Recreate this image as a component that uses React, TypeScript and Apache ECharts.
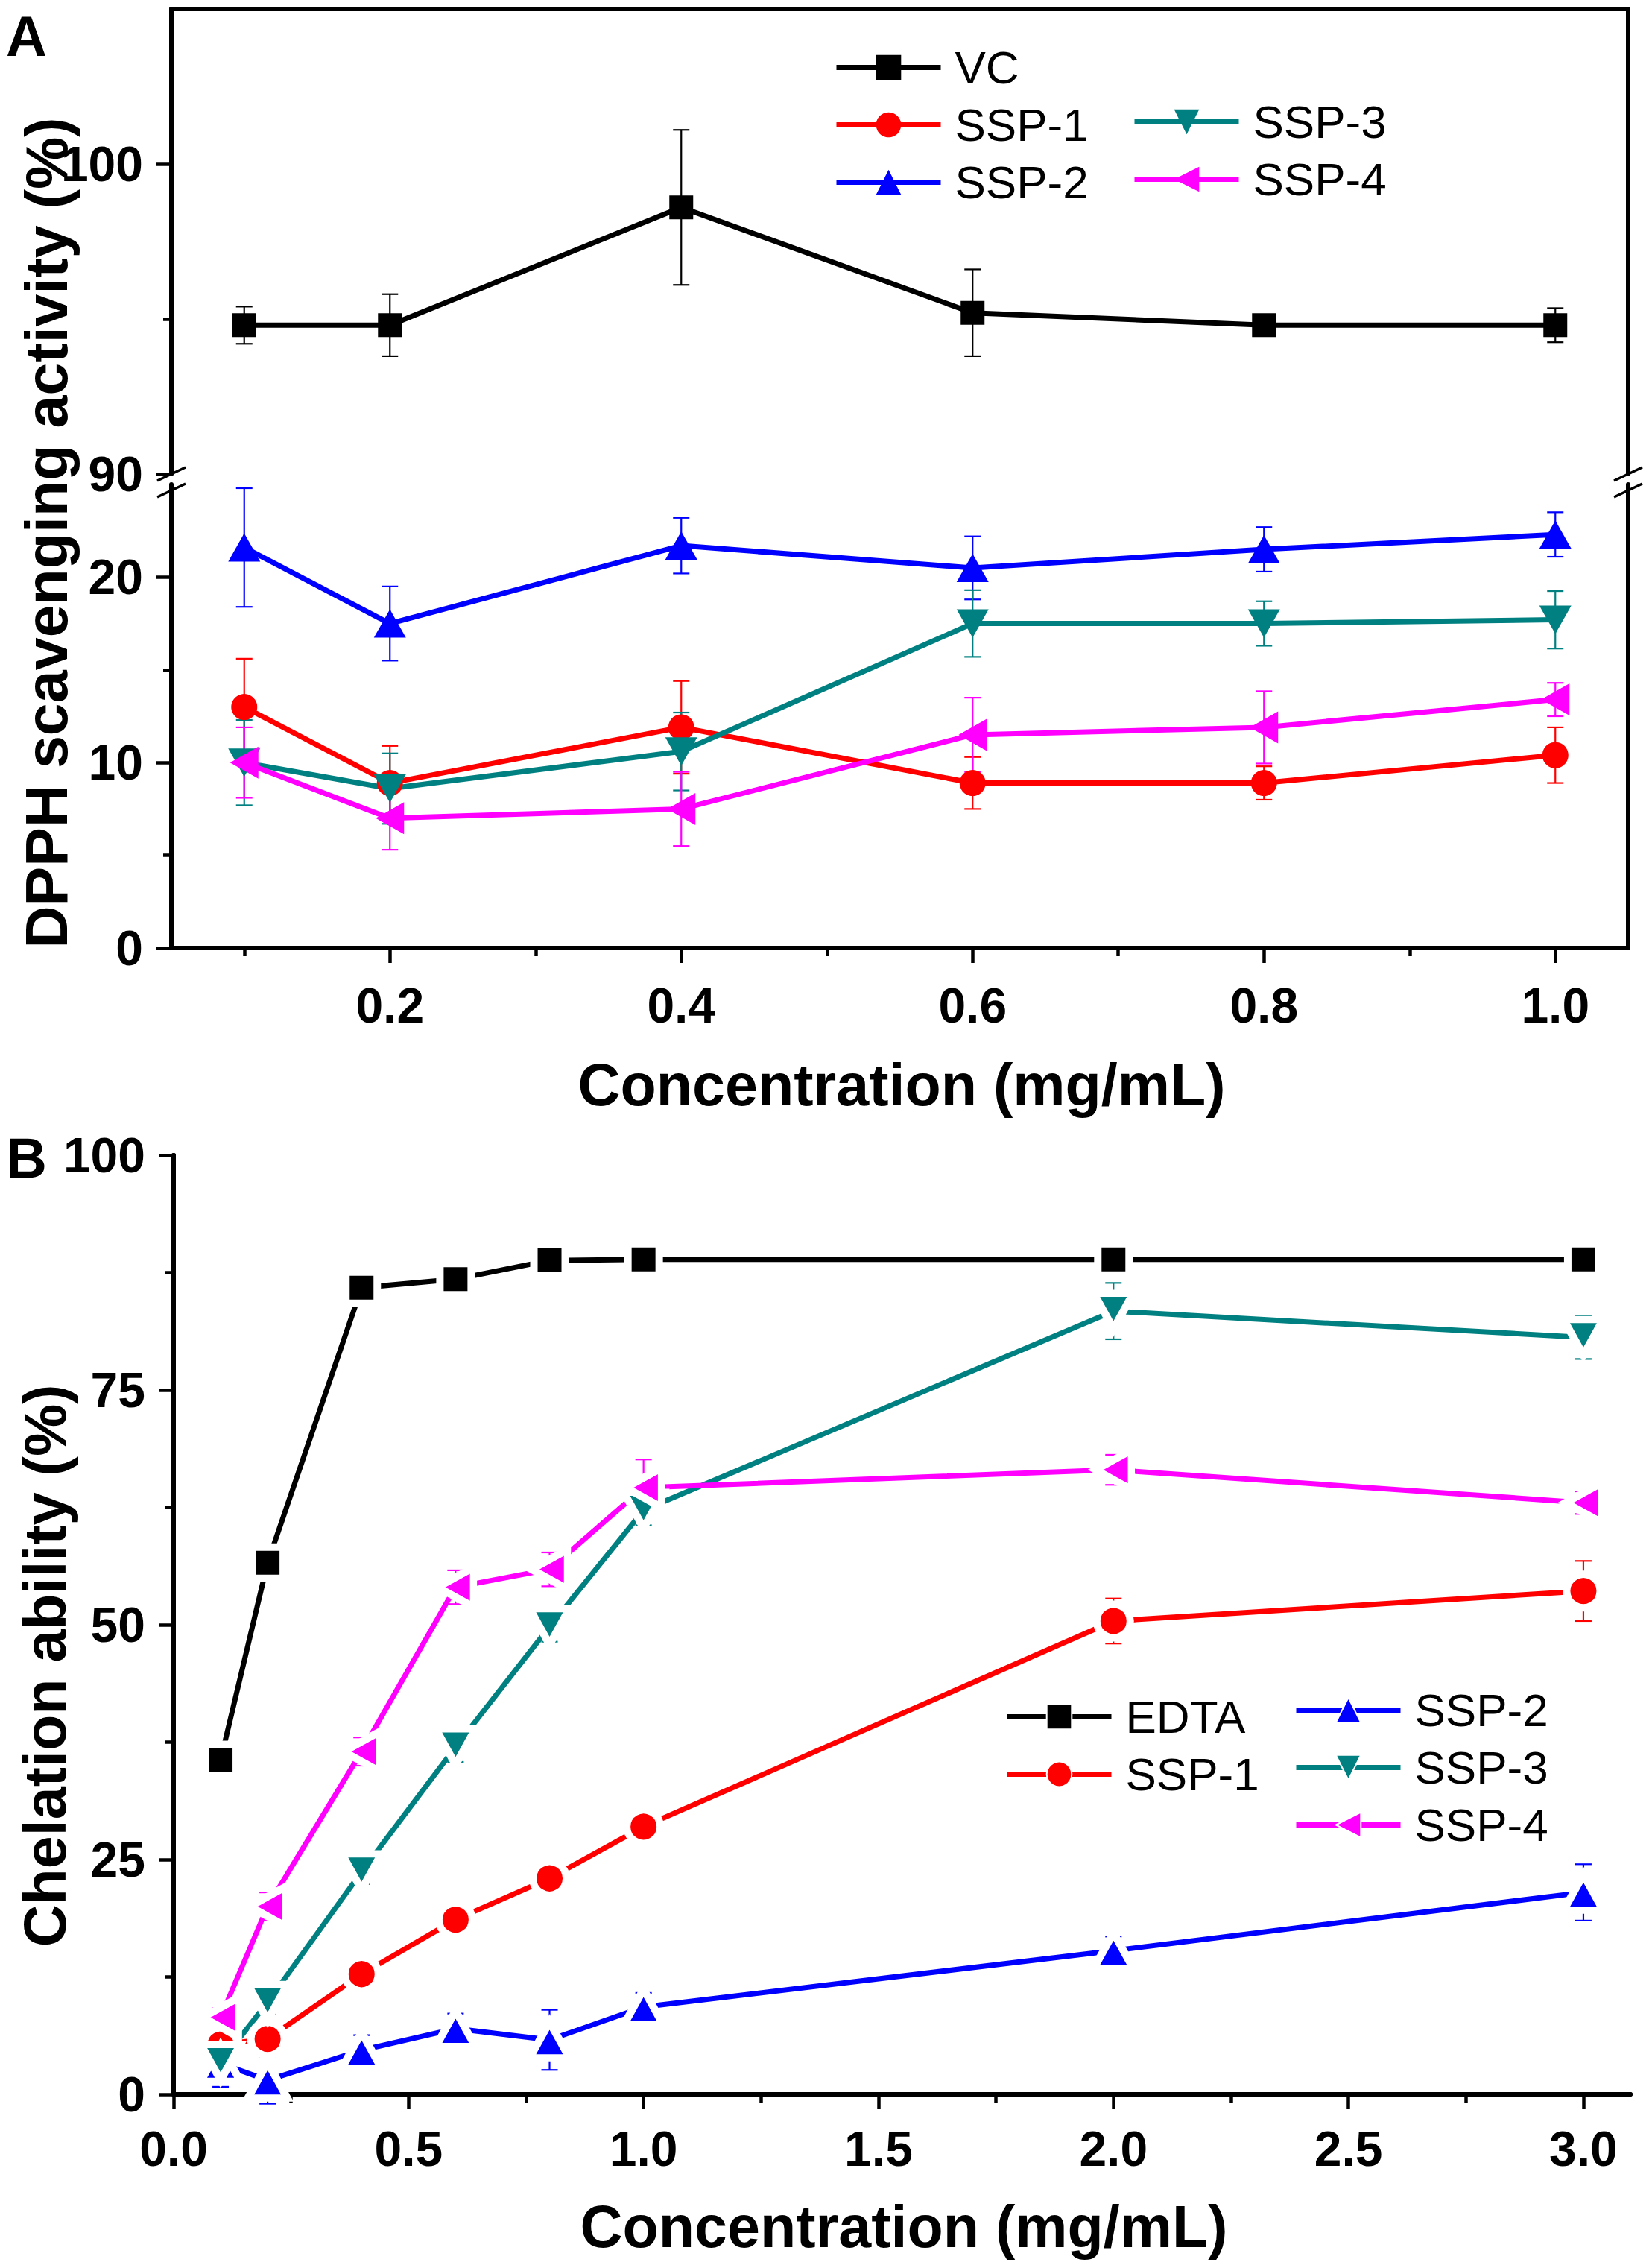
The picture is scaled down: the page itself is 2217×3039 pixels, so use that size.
import React, { useEffect, useRef } from "react";
import * as echarts from "echarts";

const W = 2217;
const H = 3039;
const FONT = "'Liberation Sans', Arial, Helvetica, sans-serif";

// ---------- Panel A: DPPH scavenging ----------
const xA = [0.1, 0.2, 0.4, 0.6, 0.8, 1.0];
const vcA = [94.8, 94.8, 98.6, 95.2, 94.8, 94.8];
const vcAErr = [0.6, 1.0, 2.5, 1.4, 0.2, 0.55];
const ssp1A = [13.0, 8.9, 11.9, 8.9, 8.9, 10.4];
const ssp1AErr = [2.6, 2.0, 2.5, 1.4, 0.9, 1.5];
const ssp2A = [21.6, 17.5, 21.7, 20.5, 21.5, 22.3];
const ssp2AErr = [3.2, 2.0, 1.5, 1.7, 1.2, 1.2];
const ssp3A = [10.0, 8.6, 10.6, 17.5, 17.5, 17.7];
const ssp3AErr = [2.3, 1.9, 2.1, 1.8, 1.2, 1.55];
const ssp4A = [10.0, 7.0, 7.5, 11.5, 11.9, 13.4];
const ssp4AErr = [1.9, 1.7, 2.0, 2.0, 1.95, 0.9];

const xTicksA = [0.2, 0.4, 0.6, 0.8, 1.0];
const xMinorA = [0.1, 0.3, 0.5, 0.7, 0.9];
const yTopTicksA = [90, 100];
const yTopMinorA = [95];
const yBotTicksA = [0, 10, 20];
const yBotMinorA = [5, 15];

// ---------- Panel B: chelation ----------
const xB = [0.1, 0.2, 0.4, 0.6, 0.8, 1.0, 2.0, 3.0];
const edtaB = [35.6, 56.6, 85.9, 86.8, 88.8, 88.9, 88.9, 88.9];
const edtaBErr = [0.4, 0.4, 0.4, 0.4, 1.8, 0.4, 0.4, 0.4];
const ssp1B = [5.3, 5.9, 12.8, 18.6, 23.0, 28.5, 50.4, 53.6];
const ssp1BErr = [0.5, 0.5, 0.6, 0.6, 0.6, 0.6, 2.4, 3.2];
const ssp2B = [3.3, 1.5, 4.7, 7.0, 5.8, 9.3, 15.3, 21.5];
const ssp2BErr = [2.5, 2.5, 1.6, 1.6, 3.2, 1.5, 1.5, 3.0];
const ssp3B = [3.4, 9.8, 23.7, 37.0, 49.8, 62.2, 83.4, 80.6];
const ssp3BErr = [1.5, 1.2, 1.3, 1.6, 1.6, 1.6, 3.0, 2.3];
const ssp4B = [8.2, 20.0, 36.5, 54.0, 55.9, 64.6, 66.5, 63.0];
const ssp4BErr = [1.0, 1.5, 1.5, 1.8, 1.8, 3.0, 1.6, 1.2];

const xTicksB = [0, 0.5, 1.0, 1.5, 2.0, 2.5, 3.0];
const xMinorB = [0.25, 0.75, 1.25, 1.75, 2.25, 2.75];
const yTicksB = [0, 25, 50, 75, 100];
const yMinorB = [12.5, 37.5, 62.5, 87.5];

const BLACK = "#000000";
const RED = "#ff0000";
const BLUE = "#0000ff";
const TEAL = "#008080";
const MAGENTA = "#ff00ff";

const AXW = 6;
const B_SUFFIX = " (B)";

function pairs(xs: number[], ys: number[]) {
  return xs.map((x, i) => [x, ys[i]]);
}

function lineSeries(
  name: string,
  xs: number[],
  ys: number[],
  color: string,
  symbol: string,
  size: number | number[],
  rotate: number,
  width: number,
  xi: number,
  yi: number,
  gap: number
) {
  const sz = Array.isArray(size) ? size.map((s) => s + gap) : size + gap;
  return {
    type: "line",
    name,
    data: pairs(xs, ys),
    xAxisIndex: xi,
    yAxisIndex: yi,
    symbol,
    symbolSize: sz,
    symbolRotate: rotate,
    showSymbol: true,
    lineStyle: { color, width },
    itemStyle: gap > 0 ? { color, borderColor: "#ffffff", borderWidth: gap } : { color, borderWidth: 0 },
    emphasis: { disabled: true },
    silent: true,
    z: 5,
  };
}

function errSeries(
  xs: number[],
  ys: number[],
  es: number[],
  color: string,
  xi: number,
  yi: number
) {
  return {
    type: "custom",
    xAxisIndex: xi,
    yAxisIndex: yi,
    data: xs.map((x, i) => [x, ys[i], es[i]]),
    encode: { x: 0, y: 1 },
    silent: true,
    z: 3,
    renderItem: (params: any, api: any) => {
      const x = api.value(0);
      const y = api.value(1);
      const e = api.value(2);
      const p1 = api.coord([x, y + e]);
      const p2 = api.coord([x, y - e]);
      const cw = 11;
      const style = { stroke: color, lineWidth: 2.2, fill: null };
      return {
        type: "group",
        children: [
          { type: "line", shape: { x1: p1[0], y1: p1[1], x2: p2[0], y2: p2[1] }, style },
          { type: "line", shape: { x1: p1[0] - cw, y1: p1[1], x2: p1[0] + cw, y2: p1[1] }, style },
          { type: "line", shape: { x1: p2[0] - cw, y1: p2[1], x2: p2[0] + cw, y2: p2[1] }, style },
        ],
      };
    },
  };
}

const labelStyle = {
  color: BLACK,
  fontSize: 66,
  fontWeight: "bold",
  fontFamily: FONT,
};

function frameAxis(gridIndex: number, position: string, min: number, max: number) {
  return {
    type: "value",
    gridIndex,
    position,
    min,
    max,
    axisLine: { show: true, lineStyle: { color: BLACK, width: AXW } },
    axisTick: { show: false },
    axisLabel: { show: false },
    splitLine: { show: false },
  };
}

function majorAxis(
  gridIndex: number,
  position: string,
  min: number,
  max: number,
  ticks: number[],
  fmt: (v: number) => string,
  margin: number
) {
  return {
    type: "value",
    gridIndex,
    position,
    min,
    max,
    axisLine: { show: true, lineStyle: { color: BLACK, width: AXW } },
    axisTick: {
      show: true,
      inside: false,
      length: 20,
      customValues: ticks,
      lineStyle: { color: BLACK, width: 4.5 },
    },
    axisLabel: {
      show: true,
      customValues: ticks,
      formatter: fmt,
      margin,
      ...labelStyle,
    },
    splitLine: { show: false },
  };
}

function minorAxis(gridIndex: number, position: string, min: number, max: number, ticks: number[]) {
  return {
    type: "value",
    gridIndex,
    position,
    min,
    max,
    axisLine: { show: false },
    axisTick: {
      show: true,
      inside: false,
      length: 11,
      customValues: ticks,
      lineStyle: { color: BLACK, width: 4.5 },
    },
    axisLabel: { show: false },
    splitLine: { show: false },
  };
}

const f1 = (v: number) => v.toFixed(1);
const f0 = (v: number) => String(Math.round(v));

function legendCfg(names: string[], left: number, top: number) {
  return {
    data: names,
    orient: "vertical",
    left,
    top,
    padding: 0,
    itemWidth: 140,
    itemHeight: 42,
    itemGap: 0,
    selectedMode: false,
    formatter: (name: string) => name.replace(B_SUFFIX, ""),
    lineStyle: { width: 7 },
    textStyle: {
      color: BLACK,
      fontSize: 62,
      fontFamily: FONT,
      lineHeight: 77,
      padding: [0, 0, 0, 14],
    },
  };
}

function breakLines(ax: number) {
  const st = { stroke: BLACK, lineWidth: 3.5 };
  return [
    { type: "line", shape: { x1: ax - 19, y1: 645, x2: ax + 19, y2: 627 }, style: st },
    { type: "line", shape: { x1: ax - 19, y1: 667, x2: ax + 19, y2: 649 }, style: st },
  ];
}

function titleText(text: string, x: number, y: number, rotate: boolean) {
  return {
    type: "text",
    x,
    y,
    rotation: rotate ? Math.PI / 2 : 0,
    silent: true,
    style: {
      text,
      fill: BLACK,
      fontSize: 79,
      fontWeight: "bold",
      fontFamily: FONT,
      align: "center",
      verticalAlign: "middle",
    },
  };
}

function panelLetter(text: string, y: number) {
  return {
    type: "text",
    x: 8,
    y,
    silent: true,
    style: {
      text,
      fill: BLACK,
      fontSize: 76,
      fontWeight: "bold",
      fontFamily: FONT,
      align: "left",
      verticalAlign: "top",
    },
  };
}

const TRI = [43, 38];

function buildOption() {
  const xMinA = 0.05;
  const xMaxA = 1.05;
  return {
    animation: false,
    backgroundColor: "#ffffff",
    grid: [
      { left: 230, top: 12, width: 1955, height: 624, show: false },
      { left: 230, top: 650, width: 1955, height: 622, show: false },
      { left: 233, top: 1550, width: 1955, height: 1260, show: false },
    ],
    xAxis: [
      frameAxis(0, "top", xMinA, xMaxA), // 0
      majorAxis(1, "bottom", xMinA, xMaxA, xTicksA, f1, 44), // 1
      minorAxis(1, "bottom", xMinA, xMaxA, xMinorA), // 2
      majorAxis(2, "bottom", 0, 3.1, xTicksB, f1, 40), // 3
      minorAxis(2, "bottom", 0, 3.1, xMinorB), // 4
      frameAxis(2, "top", 0, 3.1), // 5
    ],
    yAxis: [
      majorAxis(0, "left", 90, 105, yTopTicksA, f0, 38), // 0
      minorAxis(0, "left", 90, 105, yTopMinorA), // 1
      frameAxis(0, "right", 90, 105), // 2
      majorAxis(1, "left", 0, 25, yBotTicksA, f0, 38), // 3
      minorAxis(1, "left", 0, 25, yBotMinorA), // 4
      frameAxis(1, "right", 0, 25), // 5
      majorAxis(2, "left", 0, 100, yTicksB, f0, 38), // 6
      minorAxis(2, "left", 0, 100, yMinorB), // 7
      frameAxis(2, "right", 0, 100), // 8
    ],
    legend: [
      legendCfg(["VC", "SSP-1", "SSP-2"], 1119, 52),
      legendCfg(["SSP-3", "SSP-4"], 1519, 125),
      legendCfg(["EDTA", "SSP-1" + B_SUFFIX], 1348, 2265),
      legendCfg(["SSP-2" + B_SUFFIX, "SSP-3" + B_SUFFIX, "SSP-4" + B_SUFFIX], 1736, 2256),
    ],
    series: [
      // Panel A error bars
      errSeries(xA, vcA, vcAErr, BLACK, 0, 0),
      errSeries(xA, ssp1A, ssp1AErr, RED, 1, 3),
      errSeries(xA, ssp2A, ssp2AErr, BLUE, 1, 3),
      errSeries(xA, ssp3A, ssp3AErr, TEAL, 1, 3),
      errSeries(xA, ssp4A, ssp4AErr, MAGENTA, 1, 3),
      // Panel A lines
      lineSeries("VC", xA, vcA, BLACK, "rect", 32, 0, 7, 0, 0, 0),
      lineSeries("SSP-1", xA, ssp1A, RED, "circle", 35, 0, 7, 1, 3, 0),
      lineSeries("SSP-2", xA, ssp2A, BLUE, "triangle", TRI, 0, 7, 1, 3, 0),
      lineSeries("SSP-3", xA, ssp3A, TEAL, "triangle", TRI, 180, 7, 1, 3, 0),
      lineSeries("SSP-4", xA, ssp4A, MAGENTA, "triangle", TRI, 90, 7, 1, 3, 0),
      // Panel B error bars
      errSeries(xB, edtaB, edtaBErr, BLACK, 3, 6),
      errSeries(xB, ssp1B, ssp1BErr, RED, 3, 6),
      errSeries(xB, ssp2B, ssp2BErr, BLUE, 3, 6),
      errSeries(xB, ssp3B, ssp3BErr, TEAL, 3, 6),
      errSeries(xB, ssp4B, ssp4BErr, MAGENTA, 3, 6),
      // Panel B lines
      lineSeries("EDTA", xB, edtaB, BLACK, "rect", 32, 0, 7, 3, 6, 10),
      lineSeries("SSP-1" + B_SUFFIX, xB, ssp1B, RED, "circle", 35, 0, 7, 3, 6, 10),
      lineSeries("SSP-2" + B_SUFFIX, xB, ssp2B, BLUE, "triangle", TRI, 0, 7, 3, 6, 10),
      lineSeries("SSP-3" + B_SUFFIX, xB, ssp3B, TEAL, "triangle", TRI, 180, 7, 3, 6, 10),
      lineSeries("SSP-4" + B_SUFFIX, xB, ssp4B, MAGENTA, "triangle", TRI, 90, 7, 3, 6, 10),
    ],
    graphic: [
      ...breakLines(230),
      ...breakLines(2185),
      titleText("DPPH scavenging activity (%)", 62, 715, true),
      titleText("Concentration (mg/mL)", 1210, 1455, false),
      titleText("Chelation ability (%)", 60, 2235, true),
      titleText("Concentration (mg/mL)", 1213, 2987, false),
      panelLetter("A", 10),
      panelLetter("B", 1515),
    ],
  };
}

export default function App() {
  const ref = useRef<HTMLDivElement | null>(null);
  useEffect(() => {
    if (!ref.current) return;
    const chart = echarts.init(ref.current, null, { renderer: "svg", width: W, height: H });
    chart.setOption(buildOption() as any);
    return () => {
      chart.dispose();
    };
  }, []);
  return (
    <div
      ref={ref}
      style={{ position: "absolute", left: 0, top: 0, width: W, height: H, background: "#fff" }}
    />
  );
}
